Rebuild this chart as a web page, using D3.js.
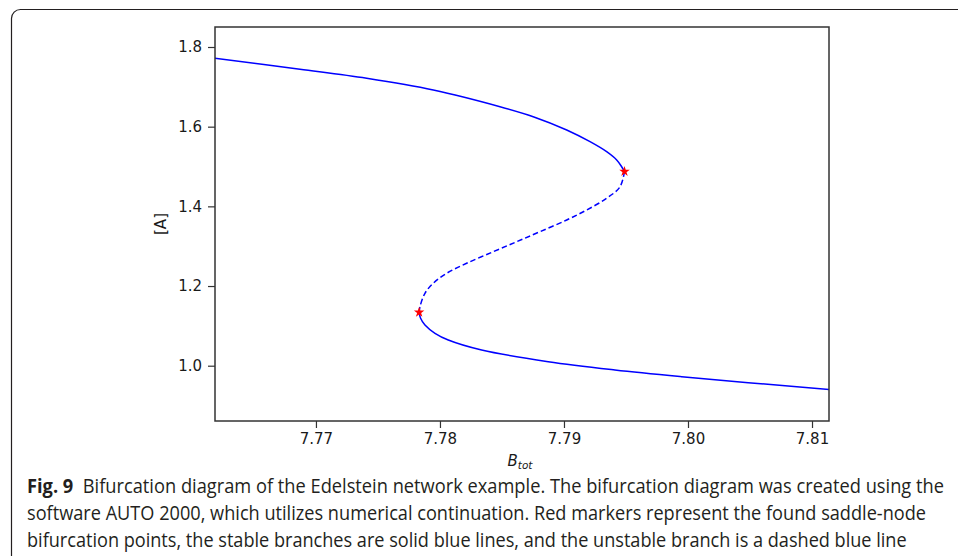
<!DOCTYPE html>
<html>
<head>
<meta charset="utf-8">
<script src="https://cdn.jsdelivr.net/npm/d3@7"></script>
<style>
  body { margin: 0; background: #fff; }
  .axis text { font-family: "DejaVu Sans", sans-serif; font-size: 15px; fill: #1a1a1a; }
  .axis line { stroke: #333; stroke-width: 1.2; }
  .axis path { display: none; }
</style>
</head>
<body>
<div id="chart"></div>
<script>
// data: B_tot and [A] along each branch
var upperStableB = [7.76185, 7.76871, 7.77409, 7.77946, 7.78484, 7.78752, 7.79022, 7.79210, 7.79344, 7.79425, 7.79465, 7.79488];
var upperStableA = [1.7716, 1.7440, 1.7214, 1.6921, 1.6502, 1.6251, 1.5917, 1.5623, 1.5372, 1.5164, 1.4995, 1.4875];

var unstableB = [7.79488, 7.79452, 7.79344, 7.79183, 7.79022, 7.78806, 7.78619, 7.78430, 7.78215, 7.78054, 7.77946, 7.77879, 7.77839, 7.77832];
var unstableA = [1.4875, 1.4493, 1.4202, 1.3909, 1.3658, 1.3364, 1.3113, 1.2862, 1.2571, 1.2320, 1.2069, 1.1818, 1.1481, 1.1341];

var lowerStableB = [7.77832, 7.77843, 7.77879, 7.77960, 7.78067, 7.78336, 7.78873, 7.79411, 7.79949, 7.80486, 7.81137];
var lowerStableA = [1.1341, 1.1198, 1.1022, 1.0814, 1.0646, 1.0395, 1.0101, 0.9893, 0.9724, 0.9574, 0.9403];

var saddleB = [7.79488, 7.77832];
var saddleA = [1.4875, 1.1341];

var xTicks = [7.77, 7.78, 7.79, 7.80, 7.81];
var yTicks = [1.0, 1.2, 1.4, 1.6, 1.8];

var captionLines = [
  "Bifurcation diagram of the Edelstein network example. The bifurcation diagram was created using the",
  "software AUTO 2000, which utilizes numerical continuation. Red markers represent the found saddle-node",
  "bifurcation points, the stable branches are solid blue lines, and the unstable branch is a dashed blue line"
];

function zip(bs, as) {
  return bs.map(function(b, i) { return { b: b, a: as[i] }; });
}

var W = 958, H = 556;
var margin = { top: 27, left: 215, right: 958 - 829, bottom: 556 - 421 };
var width = W - margin.left - margin.right;
var height = H - margin.top - margin.bottom;

var svg = d3.select("#chart").append("svg")
    .attr("width", W)
    .attr("height", H);

svg.append("rect").attr("width", W).attr("height", H).attr("fill", "#fff");

// outer panel frame (rounded corner, runs off the page)
svg.append("rect")
    .attr("x", 11.5).attr("y", 9.5)
    .attr("width", 1100).attr("height", 700)
    .attr("rx", 9).attr("ry", 9)
    .attr("fill", "none")
    .attr("stroke", "#231f20")
    .attr("stroke-width", 1.2);

var g = svg.append("g")
    .attr("transform", "translate(" + margin.left + "," + margin.top + ")");

var x = d3.scaleLinear().domain([7.76186, 7.81137]).range([0, width]);
var y = d3.scaleLinear().domain([0.8612, 1.8502]).range([height, 0]);

g.append("g")
    .attr("class", "axis x-axis")
    .attr("transform", "translate(0," + height + ")")
    .call(d3.axisBottom(x).tickValues(xTicks).tickFormat(d3.format(".2f")).tickSize(7).tickPadding(5));

g.append("g")
    .attr("class", "axis y-axis")
    .call(d3.axisLeft(y).tickValues(yTicks).tickFormat(d3.format(".1f")).tickSize(7).tickPadding(6));

g.append("clipPath").attr("id", "clip")
  .append("rect").attr("width", width).attr("height", height);

var line = d3.line()
    .curve(d3.curveCatmullRom.alpha(0.5))
    .x(function(d) { return x(d.b); })
    .y(function(d) { return y(d.a); });

var plot = g.append("g").attr("clip-path", "url(#clip)");

plot.append("path")
    .datum(zip(upperStableB, upperStableA))
    .attr("d", line)
    .attr("fill", "none").attr("stroke", "#0000ff").attr("stroke-width", 1.5);

plot.append("path")
    .datum(zip(unstableB, unstableA))
    .attr("d", line)
    .attr("fill", "none").attr("stroke", "#0000ff").attr("stroke-width", 1.5)
    .attr("stroke-dasharray", "5.5,3");

plot.append("path")
    .datum(zip(lowerStableB, lowerStableA))
    .attr("d", line)
    .attr("fill", "none").attr("stroke", "#0000ff").attr("stroke-width", 1.5);

// saddle-node points
g.selectAll(".sn")
    .data(zip(saddleB, saddleA))
  .enter().append("path")
    .attr("class", "sn")
    .attr("transform", function(d) { return "translate(" + x(d.b) + "," + y(d.a) + ")"; })
    .attr("d", d3.symbol().type(d3.symbolStar).size(34))
    .attr("fill", "#ff0000");

// spines
g.append("rect")
    .attr("width", width).attr("height", height)
    .attr("fill", "none").attr("stroke", "#333").attr("stroke-width", 1.5);

// axis labels
var xl = g.append("text")
    .attr("x", width / 2 - 2)
    .attr("y", height + 45)
    .attr("text-anchor", "middle")
    .style("font-family", "DejaVu Sans, sans-serif")
    .style("font-style", "italic")
    .style("font-size", "15px")
    .attr("fill", "#1a1a1a");
xl.append("tspan").text("B");
xl.append("tspan").attr("dy", 3).style("font-size", "10.5px").text("tot");

g.append("text")
    .attr("transform", "translate(" + (166 - margin.left) + "," + (height / 2) + ") rotate(-90)")
    .attr("text-anchor", "middle")
    .style("font-family", "DejaVu Sans, sans-serif")
    .style("font-size", "15px")
    .attr("fill", "#1a1a1a")
    .text("[A]");

// figure caption, squeezed horizontally to the condensed width of the original
var capX = 27, capY = [493, 520, 546.5], capW = [918, 900, 880];
captionLines.forEach(function(t, i) {
  var holder = svg.append("g");
  var tx = holder.append("text")
      .attr("x", 0).attr("y", 0)
      .style("font-family", "Open Sans, sans-serif")
      .style("font-size", "19.5px")
      .attr("fill", "#231f20");
  if (i === 0) {
    tx.append("tspan").style("font-weight", "bold").text("Fig. 9");
    tx.append("tspan").text("\u00a0 " + t);
  } else {
    tx.text(t);
  }
  var natural = tx.node().getComputedTextLength();
  holder.attr("transform", "translate(" + capX + "," + capY[i] + ") scale(" + (capW[i] / natural) + ",1)");
});
</script>
</body>
</html>
